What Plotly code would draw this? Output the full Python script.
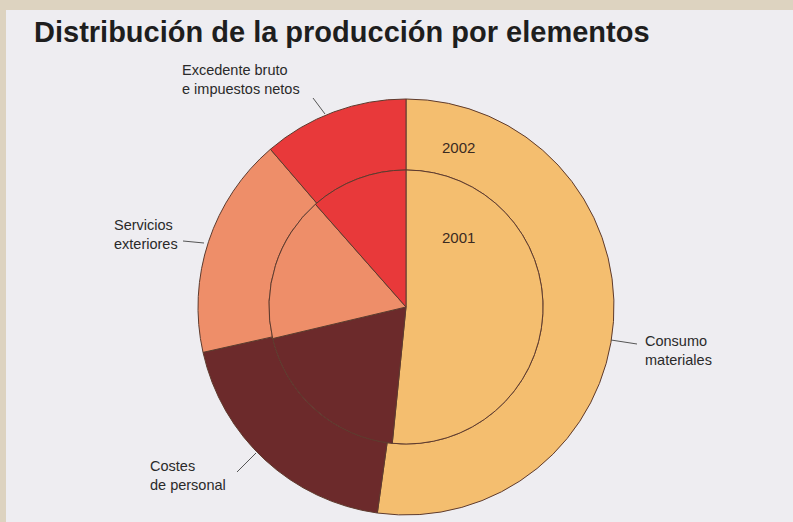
import plotly.graph_objects as go

W, H = 793, 522

# data (percent of production)
elementos = ["Consumo materiales", "Costes de personal", "Servicios exteriores",
             "Excedente bruto e impuestos netos"]
valores_2002 = [52.2, 19.3, 17.2, 11.3]
valores_2001 = [51.6, 19.7, 17.2, 11.5]
colores = ["#F4BE6F", "#6C2A2B", "#EE8E69", "#E8393A"]

BORDE = "#5E3B2E"
FONT = "Liberation Sans, Arial, sans-serif"


def px(x):
    return x / W


def py(y):
    return 1 - y / H


def pie_domain(cx, cy, r):
    return dict(x=[px(cx - r), px(cx + r)], y=[py(cy + r), py(cy - r)])


CX, CY = 406, 307

fig = go.Figure()

# outer ring: 2002
fig.add_trace(go.Pie(
    labels=elementos,
    values=valores_2002,
    hole=137 / 208,
    sort=False,
    direction="clockwise",
    rotation=0,
    marker=dict(colors=colores, line=dict(color=BORDE, width=1)),
    textinfo="none",
    hovertemplate="2002<br>%{label}: %{value}%<extra></extra>",
    domain=pie_domain(CX, CY, 208),
    showlegend=False,
))

# inner pie: 2001
fig.add_trace(go.Pie(
    labels=elementos,
    values=valores_2001,
    sort=False,
    direction="clockwise",
    rotation=0,
    marker=dict(colors=colores, line=dict(color=BORDE, width=1)),
    textinfo="none",
    hovertemplate="2001<br>%{label}: %{value}%<extra></extra>",
    domain=pie_domain(CX, CY, 137),
    showlegend=False,
))

shapes = [
    # grey panel over the beige paper (beige strip shows top and left)
    dict(type="rect", xref="paper", yref="paper", x0=px(6), x1=1, y0=0, y1=py(10),
         fillcolor="#EEEDF1", line=dict(width=0), layer="below"),
]

# leader lines (label -> slice)
leaders = [
    ((313, 98), (325, 114)),
    ((183, 241), (204, 243)),
    ((237, 472), (256, 453)),
    ((611, 340), (637, 344)),
]
for (x0, y0), (x1, y1) in leaders:
    shapes.append(dict(type="line", xref="paper", yref="paper",
                       x0=px(x0), y0=py(y0), x1=px(x1), y1=py(y1),
                       line=dict(color="#555555", width=1)))

labels = [
    ("Excedente bruto<br>e impuestos netos", 180, 80),
    ("Servicios<br>exteriores", 112, 234),
    ("Costes<br>de personal", 148, 475),
    ("Consumo<br>materiales", 643, 350),
]

annotations = [
    dict(text="<b>Distribución de la producción por elementos</b>", x=px(32), y=py(32),
         xanchor="left", yanchor="middle", font=dict(size=29, color="#1E1E1E")),
    dict(text="2002", x=px(458), y=py(148), xanchor="center", yanchor="middle",
         font=dict(size=15, color="#3A2A22")),
    dict(text="2001", x=px(458), y=py(237), xanchor="center", yanchor="middle",
         font=dict(size=15, color="#3A2A22")),
]
for txt, x, y in labels:
    annotations.append(dict(text=txt, x=px(x), y=py(y), xanchor="left", align="left",
                            yanchor="middle", font=dict(size=14.5, color="#2A2A2A")))

for a in annotations:
    a["xref"] = "paper"
    a["yref"] = "paper"
    a["showarrow"] = False

fig.update_layout(
    width=W,
    height=H,
    margin=dict(l=0, r=0, t=0, b=0),
    paper_bgcolor="#DDD3C0",
    plot_bgcolor="#EEEDF1",
    font=dict(family=FONT, color="#2A2A2A"),
    shapes=shapes,
    annotations=annotations,
)

fig.write_html("out.html", config={"displayModeBar": False},
               post_script="document.body.style.margin='0';")
